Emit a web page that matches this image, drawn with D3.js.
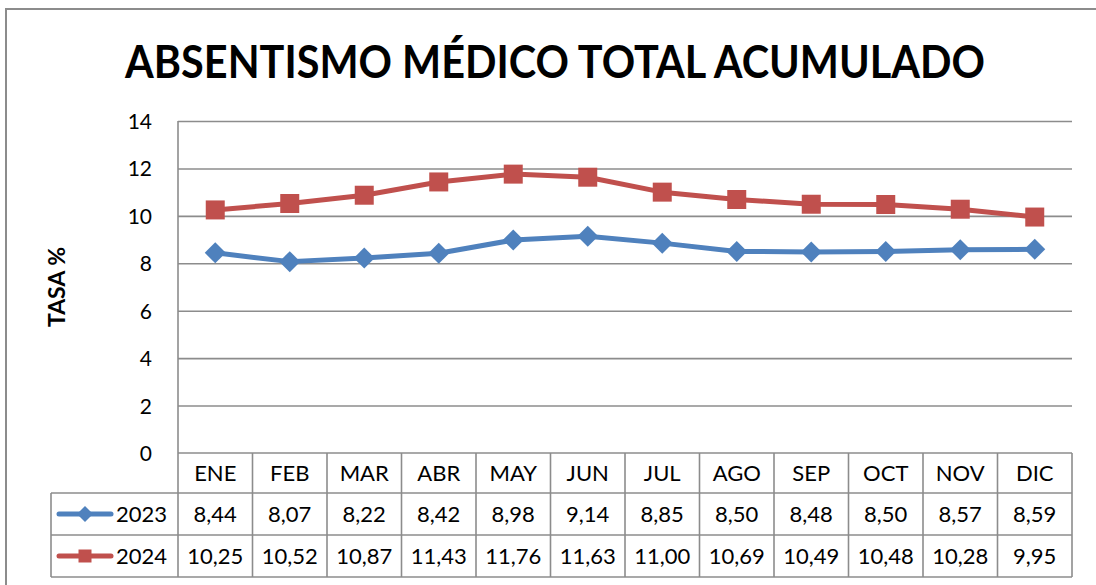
<!DOCTYPE html>
<html>
<head>
<meta charset="utf-8">
<script src="https://cdn.jsdelivr.net/npm/d3@7"></script>
<style>
  body { margin: 0; background: #fff; }
  svg { display: block; font-family: Lato, 'Open Sans', sans-serif; }
  .grid line { stroke: #8c8c8c; stroke-width: 1.6; }
  .grid .domain { display: none; }
  .y text { font-size: 21px; fill: #000; font-family: Lato, sans-serif; }
  .y .domain { display: none; }
  .cell { font-size: 22px; fill: #000; }
  .tbl { stroke: #8c8c8c; stroke-width: 1.6; fill: none; }
</style>
</head>
<body>
<div class="container"></div>
<script>
  const months = ['ENE', 'FEB', 'MAR', 'ABR', 'MAY', 'JUN', 'JUL', 'AGO', 'SEP', 'OCT', 'NOV', 'DIC']
  const values2023 = [8.44, 8.07, 8.22, 8.42, 8.98, 9.14, 8.85, 8.50, 8.48, 8.50, 8.57, 8.59]
  const values2024 = [10.25, 10.52, 10.87, 11.43, 11.76, 11.63, 11.00, 10.69, 10.49, 10.48, 10.28, 9.95]
  const yTicks = [0, 2, 4, 6, 8, 10, 12, 14]

  const series = [
    { name: '2023', values: values2023, color: '#4f81bd', marker: 'diamond' },
    { name: '2024', values: values2024, color: '#c0504d', marker: 'square' }
  ]

  const width = 1096
  const height = 585
  const plot = { left: 178, right: 1072, top: 121, bottom: 453 }
  const rowH = [40, 42, 42] // header row, then one per series
  const legendLeft = 51

  const svg = d3.select('.container')
    .append('svg')
    .attr('width', width)
    .attr('height', height)

  // outer frame (right and bottom run off the picture)
  svg.append('path')
    .attr('d', 'M6,' + height + ' V9 H' + width)
    .attr('fill', 'none')
    .attr('stroke', '#8c8c8c')
    .attr('stroke-width', 2)

  // title, squeezed horizontally to the reference width
  const title = svg.append('g')
  const titleText = title.append('text')
    .attr('text-anchor', 'middle')
    .attr('font-size', 46)
    .attr('font-weight', 'bold')
    .text('ABSENTISMO MÉDICO TOTAL ACUMULADO')
  const natural = titleText.node().getComputedTextLength()
  title.attr('transform', 'translate(555,78) scale(' + (860 / natural) + ',1)')

  svg.append('text')
    .attr('transform', 'translate(65,287) rotate(-90)')
    .attr('text-anchor', 'middle')
    .attr('font-size', 23)
    .attr('font-weight', 'bold')
    .text('TASA %')

  const xScale = d3.scaleBand()
    .domain(months)
    .range([plot.left, plot.right])

  const yScale = d3.scaleLinear()
    .domain([0, 14])
    .range([plot.bottom, plot.top])

  // gridlines
  svg.append('g')
    .attr('class', 'grid')
    .attr('transform', 'translate(' + plot.left + ',0)')
    .call(d3.axisLeft(yScale).tickValues(yTicks.filter(function (d) { return d > 0 }))
      .tickSize(-(plot.right - plot.left)).tickFormat(''))

  // tick labels
  svg.append('g')
    .attr('class', 'y')
    .attr('transform', 'translate(152,0)')
    .call(d3.axisLeft(yScale).tickValues(yTicks).tickSize(0).tickPadding(0))
    .selectAll('.tick text')
    .attr('dy', '0.36em')

  // data table
  const tableTop = plot.bottom
  const rowsY = [tableTop, tableTop + rowH[0], tableTop + rowH[0] + rowH[1], tableTop + rowH[0] + rowH[1] + rowH[2]]
  const tableBottom = rowsY[3]
  const tbl = svg.append('g')

  // horizontal lines
  tbl.append('line').attr('class', 'tbl')
    .attr('x1', plot.left).attr('x2', plot.right).attr('y1', rowsY[0]).attr('y2', rowsY[0])
  rowsY.slice(1).forEach(function (y) {
    tbl.append('line').attr('class', 'tbl')
      .attr('x1', legendLeft).attr('x2', plot.right).attr('y1', y).attr('y2', y)
  })
  // vertical lines
  tbl.append('line').attr('class', 'tbl')
    .attr('x1', plot.left).attr('x2', plot.left).attr('y1', plot.top).attr('y2', tableBottom)
  tbl.append('line').attr('class', 'tbl')
    .attr('x1', legendLeft).attr('x2', legendLeft).attr('y1', rowsY[1]).attr('y2', tableBottom)
  months.forEach(function (m) {
    const x = xScale(m) + xScale.bandwidth()
    tbl.append('line').attr('class', 'tbl')
      .attr('x1', x).attr('x2', x).attr('y1', rowsY[0]).attr('y2', tableBottom)
  })

  tbl.selectAll('.month')
    .data(months)
    .enter()
    .append('text')
    .attr('class', 'cell')
    .attr('text-anchor', 'middle')
    .attr('x', function (d) { return xScale(d) + xScale.bandwidth() / 2 })
    .attr('y', (rowsY[0] + rowsY[1]) / 2)
    .attr('dy', '0.36em')
    .text(function (d) { return d })

  const fmt = function (v) { return v.toFixed(2).replace('.', ',') }

  // marker shapes: diamond given by half-diagonal, square by half-side
  function markerPath (s, r) {
    if (s.marker === 'diamond') {
      return 'M0,' + (-r) + 'L' + r + ',0L0,' + r + 'L' + (-r) + ',0Z'
    }
    return 'M' + (-r) + ',' + (-r) + 'H' + r + 'V' + r + 'H' + (-r) + 'Z'
  }

  series.forEach(function (s, i) {
    const cy = (rowsY[i + 1] + rowsY[i + 2]) / 2

    tbl.selectAll('.v' + s.name)
      .data(s.values)
      .enter()
      .append('text')
      .attr('class', 'cell')
      .attr('text-anchor', 'middle')
      .attr('x', function (d, j) { return xScale(months[j]) + xScale.bandwidth() / 2 })
      .attr('y', cy)
      .attr('dy', '0.36em')
      .text(fmt)

    // legend key
    tbl.append('line')
      .attr('x1', 59).attr('x2', 111).attr('y1', cy).attr('y2', cy)
      .attr('stroke', s.color).attr('stroke-width', 5).attr('stroke-linecap', 'round')
    tbl.append('path')
      .attr('transform', 'translate(85,' + cy + ')')
      .attr('d', markerPath(s, s.marker === 'diamond' ? 8 : 6.5))
      .attr('fill', s.color)
    tbl.append('text')
      .attr('class', 'cell')
      .attr('x', 116)
      .attr('y', cy)
      .attr('dy', '0.36em')
      .text(s.name)
  })

  // lines and markers
  const valueline = d3.line()
    .x(function (d, j) { return xScale(months[j]) + xScale.bandwidth() / 2 })
    .y(function (d) { return yScale(d) })

  series.forEach(function (s) {
    const g = svg.append('g')
    g.append('path')
      .attr('d', valueline(s.values))
      .attr('fill', 'none')
      .attr('stroke', s.color)
      .attr('stroke-width', 5)
      .attr('stroke-linejoin', 'round')

    g.selectAll('.pt')
      .data(s.values)
      .enter()
      .append('path')
      .attr('transform', function (d, j) {
        return 'translate(' + (xScale(months[j]) + xScale.bandwidth() / 2) + ',' + yScale(d) + ')'
      })
      .attr('d', markerPath(s, s.marker === 'diamond' ? 10.5 : 9.5))
      .attr('fill', s.color)
  })
</script>
</body>
</html>
